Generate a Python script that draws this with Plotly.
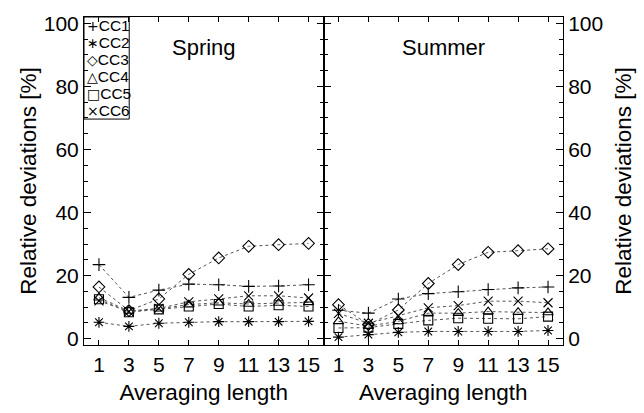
import plotly.graph_objects as go
from plotly.subplots import make_subplots

lengths = [1, 3, 5, 7, 9, 11, 13, 15]
series_names = ["CC1", "CC2", "CC3", "CC4", "CC5", "CC6"]

spring_cc1 = [23.5, 13.1, 15.4, 17.3, 17.1, 16.6, 16.7, 17.1]
spring_cc2 = [5.2, 3.9, 4.9, 5.2, 5.4, 5.4, 5.4, 5.5]
spring_cc3 = [16.4, 8.9, 12.6, 20.4, 25.6, 29.3, 29.8, 30.2]
spring_cc4 = [13.0, 8.8, 9.5, 10.8, 11.4, 11.0, 11.3, 11.5]
spring_cc5 = [12.5, 8.4, 9.3, 10.2, 11.0, 10.2, 10.6, 10.2]
spring_cc6 = [12.0, 8.6, 9.6, 11.7, 12.6, 13.6, 13.6, 12.9]

summer_cc1 = [9.0, 8.1, 12.6, 14.3, 14.9, 15.6, 16.1, 16.4]
summer_cc2 = [0.5, 1.3, 2.0, 2.3, 2.3, 2.3, 2.3, 2.6]
summer_cc3 = [10.8, 4.5, 9.1, 17.5, 23.5, 27.4, 27.9, 28.5]
summer_cc4 = [5.5, 4.0, 5.5, 8.1, 8.1, 8.6, 8.4, 8.3]
summer_cc5 = [3.4, 3.5, 4.7, 5.8, 6.5, 6.3, 6.3, 7.0]
summer_cc6 = [8.0, 4.9, 7.3, 9.8, 10.5, 11.9, 11.9, 11.4]

spring = [spring_cc1, spring_cc2, spring_cc3, spring_cc4, spring_cc5, spring_cc6]
summer = [summer_cc1, summer_cc2, summer_cc3, summer_cc4, summer_cc5, summer_cc6]
symbols = ["cross-thin-open", "asterisk-open", "diamond-open",
           "triangle-up-open", "square-open", "x-thin-open"]
legend_glyphs = ["+", "\u2217", "\u25c7", "\u25b3", "\u25a1", "\u00d7"]
panel_titles = ["Spring", "Summer"]

fig = make_subplots(rows=1, cols=2, horizontal_spacing=0, shared_yaxes=False)

for col, data in [(1, spring), (2, summer)]:
    for name, vals, sym in zip(series_names, data, symbols):
        fig.add_trace(go.Scatter(
            x=lengths, y=vals, mode="lines+markers", name=name,
            showlegend=False,
            line=dict(color="#555555", width=1, dash="dot"),
            marker=dict(symbol=sym, size=9, color="black",
                        line=dict(color="black", width=1.1)),
        ), row=1, col=col)

font_main = "Liberation Sans, Arial, sans-serif"
xcommon = dict(range=[0, 16], tickvals=lengths, ticks="inside", ticklen=5,
               showline=True, linecolor="black", linewidth=1, mirror="ticks",
               showgrid=False, zeroline=False, tickcolor="black",
               ticklabelstandoff=1,
               tickfont=dict(size=21, family=font_main, color="black"),
               title=dict(text="Averaging length", standoff=9,
                          font=dict(size=22.5, family=font_main, color="black")))
ycommon = dict(range=[-2, 102], dtick=20, tick0=0, ticks="inside", ticklen=7,
               showline=True, linecolor="black", linewidth=1, mirror="ticks",
               showgrid=False, zeroline=False, tickcolor="black",
               minor=dict(dtick=5, ticks="inside", ticklen=4, tickcolor="black"),
               tickfont=dict(size=21, family=font_main, color="black"),
               title=dict(text="Relative deviations [%]",
                          font=dict(size=22.5, family=font_main, color="black")))

fig.update_xaxes(**xcommon)
fig.update_xaxes(domain=[0, 0.5], row=1, col=1)
fig.update_xaxes(domain=[0.5, 1], row=1, col=2)
fig.update_yaxes(**ycommon)
fig.update_yaxes(side="left", title_standoff=0, row=1, col=1)
fig.update_yaxes(side="right", title_standoff=13, row=1, col=2)

plot_h = 331.0
plot_w = 498.0
annotations = []
for i, t in enumerate(panel_titles):
    annotations.append(dict(x=0.25 + 0.5 * i, y=(345 - 45) / plot_h, xref="paper", yref="paper",
                            xanchor="center", yanchor="middle",
                            text=t, showarrow=False,
                            font=dict(size=22, family=font_main, color="black")))

# legend box (top-left of left panel)
for i, (g, n) in enumerate(zip(legend_glyphs, series_names)):
    ypix = 23 + 17.0 * i
    txt = "<span style='font-family:DejaVu Sans;font-size:14px'>" + g + "</span>" + n
    annotations.append(dict(x=1 / plot_w, y=(345 - ypix) / plot_h, xref="paper", yref="paper",
                            xanchor="left", yanchor="middle", text=txt, showarrow=False,
                            font=dict(size=15.5, family=font_main, color="black")))

fig.update_layout(
    width=644, height=413,
    margin=dict(l=84, r=62, t=14, b=68),
    plot_bgcolor="white", paper_bgcolor="white",
    annotations=annotations,
    shapes=[dict(type="rect", xref="paper", yref="paper",
                 x0=0, x1=47 / plot_w, y0=(345 - 117) / plot_h, y1=1,
                 line=dict(color="black", width=1))],
)

fig.write_html("out.html")
